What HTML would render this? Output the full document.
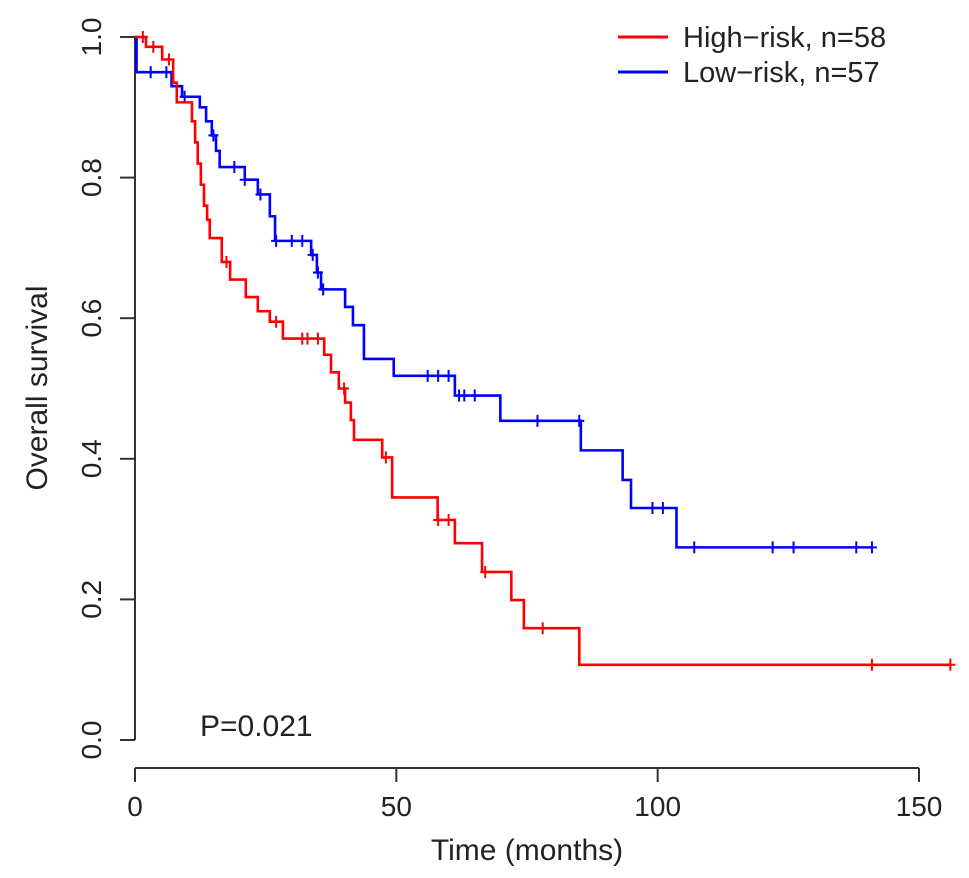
<!DOCTYPE html>
<html><head><meta charset="utf-8"><style>
body{margin:0;background:#fff}
svg{display:block;font-family:"Liberation Sans",Arial,sans-serif}
</style></head><body>
<svg id="chart" width="969" height="878" viewBox="0 0 969 878" xmlns="http://www.w3.org/2000/svg">
<g id="axes"></g>
<g id="plot"></g>
<text x="200" y="736" font-size="30" fill="#222">P=0.021</text>
<text x="527" y="860" font-size="30" text-anchor="middle" fill="#222">Time (months)</text>
<text transform="translate(47,388) rotate(-90)" font-size="30" text-anchor="middle" fill="#222">Overall survival</text>
<g>
<line x1="618" y1="37" x2="668" y2="37" stroke="#f00" stroke-width="3"/>
<text x="683" y="47" font-size="29" fill="#222">High−risk, n=58</text>
<line x1="618" y1="72" x2="668" y2="72" stroke="#00f" stroke-width="3"/>
<text x="683" y="82" font-size="29" fill="#222">Low−risk, n=57</text>
</g>
</svg>
<script>
const xTicks=[0,50,100,150];
const yTicks=[0,0.2,0.4,0.6,0.8,1.0];
const yTickLabels=["0.0","0.2","0.4","0.6","0.8","1.0"];
const highTimes=[0,2.1,5.2,7.3,8.0,10.9,11.5,12.0,12.6,13.2,13.8,14.3,16.6,18.2,21.2,23.5,25.8,28.3,36.2,37.5,39,40.2,41.3,41.9,47.3,49.2,57.9,61.2,66.4,72,74.4,85];
const highSurv=[1.0,0.986,0.968,0.935,0.907,0.88,0.85,0.82,0.79,0.76,0.74,0.714,0.68,0.655,0.63,0.61,0.595,0.571,0.548,0.523,0.50,0.48,0.455,0.427,0.402,0.345,0.313,0.28,0.239,0.199,0.159,0.107];
const highEnd=156;
const highCensor=[1.5,3.5,6.5,17.5,27,32,33,35,40,48,58,60,67,78,141,156];
const lowTimes=[0,0.3,7,9,12.4,13.6,14.7,15.5,16.2,21,23.5,25.8,26.8,33.7,34.8,35.6,40.2,41.7,43.8,49.5,61.2,69.9,85.3,93.3,94.9,103.6];
const lowSurv=[1.0,0.95,0.93,0.915,0.9,0.88,0.86,0.838,0.815,0.797,0.776,0.745,0.71,0.69,0.665,0.641,0.616,0.59,0.542,0.518,0.49,0.454,0.412,0.37,0.33,0.274];
const lowEnd=141;
const lowCensor=[3,6,9.5,15,19,21,24,27,30,32,34,35,36,56,58,60,62,63,65,77,85,99,101,107,122,126,138,141];

const NS="http://www.w3.org/2000/svg";
const xS=t=>135+t*(784/150);
const yS=s=>740-s*703;
function mk(tag,attrs,parent){const e=document.createElementNS(NS,tag);for(const k in attrs)e.setAttribute(k,attrs[k]);parent.appendChild(e);return e;}
const axes=document.getElementById('axes'), plot=document.getElementById('plot');
const xa=mk('line',{x1:xS(0),y1:768,x2:xS(150),y2:768,stroke:'#333','stroke-width':2},axes);


xTicks.forEach(t=>{
 const l=mk('line',{x1:xS(t),y1:768,x2:xS(t),y2:782,stroke:'#333','stroke-width':2},axes);
 
 
 const tx=mk('text',{x:xS(t),y:816,'font-size':28,'text-anchor':'middle',fill:'#222'},axes);
 
 
 tx.textContent=t;
});
const ya=mk('line',{x1:135,y1:yS(0),x2:135,y2:yS(1),stroke:'#333','stroke-width':2},axes);


yTicks.forEach((v,i)=>{
 const l=mk('line',{x1:120,y1:yS(v),x2:135,y2:yS(v),stroke:'#333','stroke-width':2},axes);
 
 
 const tx=mk('text',{transform:`translate(101,${yS(v)}) rotate(-90)`,'font-size':28,'text-anchor':'middle',fill:'#222'},axes);
 
 
 tx.textContent=yTickLabels[i];
});
function survAt(times,surv,t){let s=surv[0];for(let i=0;i<times.length;i++){if(times[i]<=t)s=surv[i];}return s;}
function drawCurve(times,surv,end,cens,color,name){
 let d=`M${xS(times[0])},${yS(surv[0])}`;
 for(let i=1;i<times.length;i++){d+=`H${xS(times[i])}V${yS(surv[i])}`;}
 d+=`H${xS(end)}`;
 const p=mk('path',{d:d,fill:'none',stroke:color,'stroke-width':2.6},plot);
 
 
 cens.forEach(t=>{
  const x=xS(t),y=yS(survAt(times,surv,t));
  const c=mk('path',{d:`M${x-5},${y}H${x+5}M${x},${y-6}V${y+6}`,stroke:color,'stroke-width':2},plot);
  
  
 });
}
drawCurve(lowTimes,lowSurv,lowEnd,lowCensor,'#00f','low-risk');
drawCurve(highTimes,highSurv,highEnd,highCensor,'#f00','high-risk');
</script>
</body></html>
